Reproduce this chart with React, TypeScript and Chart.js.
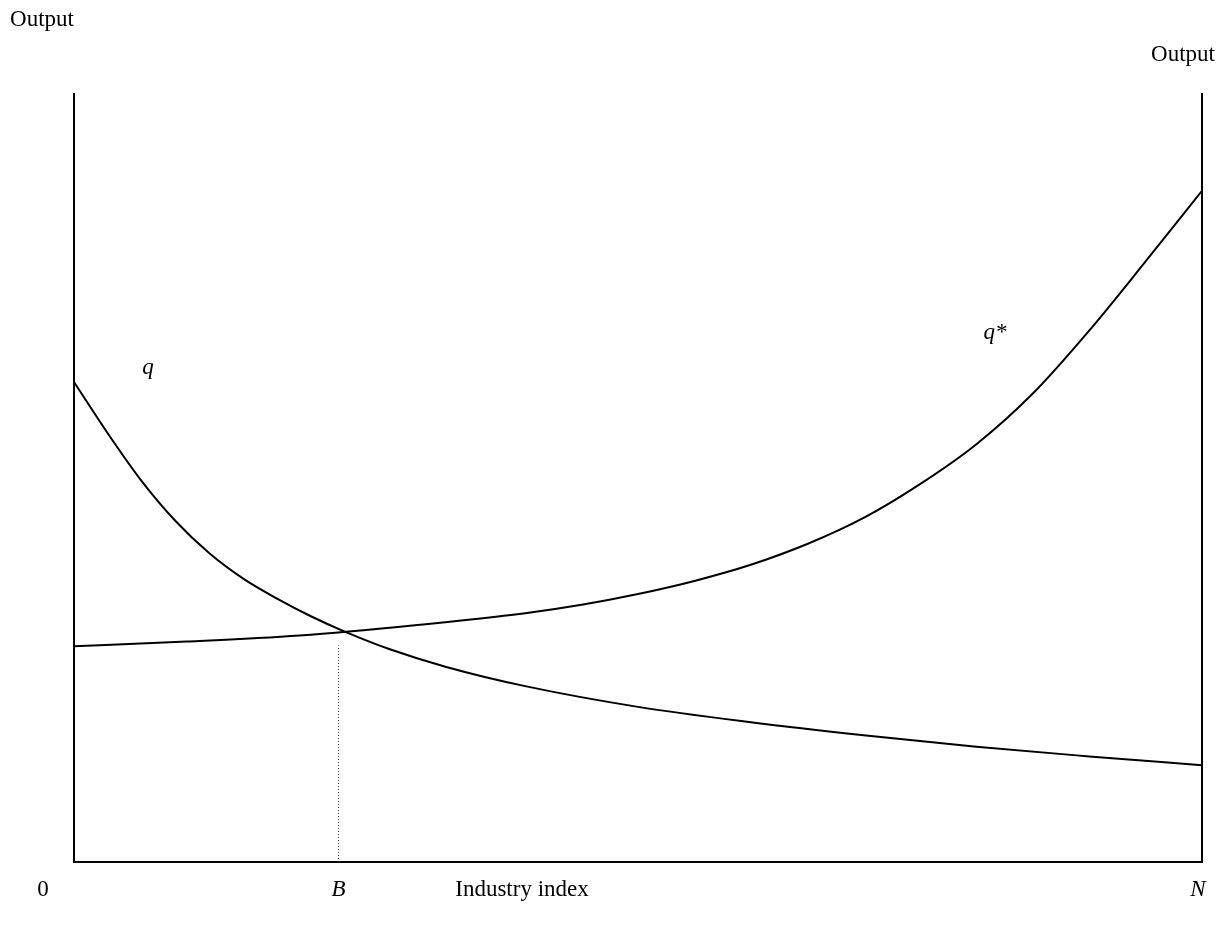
import React, { useEffect, useRef } from "react";
import { Chart, registerables } from "chart.js";

Chart.register(...registerables);

// Industry index (0 .. N = 100) and output values
const qX = [0, 3, 6, 9, 12, 15, 18, 21, 24, 28, 33, 40, 50, 60, 70, 80, 90, 100];
const qY = [62.5, 55.8, 49.6, 44.4, 40.2, 36.9, 34.3, 32.0, 30.0, 27.7, 25.4, 22.9, 20.2, 18.2, 16.5, 15.0, 13.75, 12.6];

const qStarX = [0, 10, 20, 30, 40, 45, 50, 55, 60, 65, 70, 75, 80, 85, 90, 95, 100];
const qStarY = [28.1, 28.7, 29.5, 30.8, 32.4, 33.5, 34.9, 36.6, 38.7, 41.4, 44.8, 49.2, 54.4, 61.0, 69.2, 78.2, 87.4];

const B_VALUE = 23.45;
const N_VALUE = 100;
const DROP_TOP = 28.2;

const axisLabels = ["0", "B", "Industry index", "N"];
const yTitle = "Output";
const curveLabels = ["q", "q*"];
const curveLabelPos = [
  [6.56, 64.3],
  [81.65, 68.9],
];

const toPoints = (xs: number[], ys: number[]) => xs.map((x, i) => ({ x, y: ys[i] }));

const FONT = '"Liberation Serif", "Times New Roman", serif';
const SIZE = 23;

const labelPlugin = {
  id: "labels",
  afterDraw(chart: any) {
    const ctx = chart.ctx;
    const xs = chart.scales.x;
    const ys = chart.scales.y;
    ctx.save();
    ctx.fillStyle = "#000";
    ctx.textBaseline = "middle";
    ctx.textAlign = "center";
    const bottomY = 890;
    const roman = `${SIZE}px ${FONT}`;
    const italic = `italic ${SIZE}px ${FONT}`;
    ctx.font = roman;
    ctx.fillText(axisLabels[0], 43, bottomY);
    ctx.font = italic;
    ctx.fillText(axisLabels[1], xs.getPixelForValue(B_VALUE), bottomY);
    ctx.font = roman;
    ctx.fillText(axisLabels[2], 522, bottomY);
    ctx.font = italic;
    ctx.fillText(axisLabels[3], xs.getPixelForValue(N_VALUE) - 4, bottomY);
    ctx.font = roman;
    ctx.fillText(yTitle, 42, 20);
    ctx.fillText(yTitle, 1183, 55);
    ctx.font = italic;
    curveLabels.forEach((t, i) => {
      ctx.fillText(t, xs.getPixelForValue(curveLabelPos[i][0]), ys.getPixelForValue(curveLabelPos[i][1]));
    });
    ctx.restore();
  },
};

export default function App() {
  const ref = useRef<HTMLCanvasElement | null>(null);
  useEffect(() => {
    if (!ref.current) return;
    const chart = new Chart(ref.current, {
      type: "scatter",
      data: {
        datasets: [
          {
            label: "q",
            data: toPoints(qX, qY),
            showLine: true,
            borderColor: "#000",
            borderWidth: 2,
            pointRadius: 0,
            cubicInterpolationMode: "monotone",
          },
          {
            label: "q*",
            data: toPoints(qStarX, qStarY),
            showLine: true,
            borderColor: "#000",
            borderWidth: 2,
            pointRadius: 0,
            cubicInterpolationMode: "monotone",
          },
          {
            label: "B",
            data: [
              { x: B_VALUE, y: 0 },
              { x: B_VALUE, y: DROP_TOP },
            ],
            showLine: true,
            borderColor: "#444",
            borderWidth: 1,
            borderDash: [1, 2],
            pointRadius: 0,
          },
        ],
      },
      options: {
        responsive: false,
        animation: false,
        events: [],
        layout: { padding: { left: 74, right: 21, top: 94, bottom: 73 } },
        plugins: { legend: { display: false }, tooltip: { enabled: false } },
        scales: {
          x: {
            type: "linear",
            min: 0,
            max: N_VALUE,
            grid: { display: false, drawTicks: false },
            ticks: { display: false },
            border: { display: true, color: "#000", width: 2 },
          },
          y: {
            type: "linear",
            position: "left",
            min: 0,
            max: 100,
            grid: { display: false, drawTicks: false },
            ticks: { display: false },
            border: { display: true, color: "#000", width: 2 },
          },
          y2: {
            type: "linear",
            position: "right",
            min: 0,
            max: 100,
            grid: { display: false, drawTicks: false },
            ticks: { display: false },
            border: { display: true, color: "#000", width: 2 },
          },
        },
      } as any,
      plugins: [labelPlugin],
    });
    return () => chart.destroy();
  }, []);
  return (
    <div style={{ position: "fixed", left: 0, top: 0, width: 1223, height: 935, background: "#fff" }}>
      <canvas ref={ref} width={1223} height={935} />
    </div>
  );
}
